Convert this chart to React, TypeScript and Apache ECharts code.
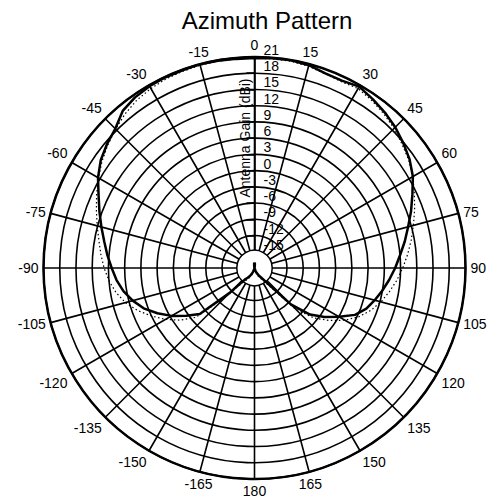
import React, { useEffect, useRef } from "react";
import * as echarts from "echarts";

// Azimuth angles (degrees, clockwise from top)
const angles = [
  -180, -175, -170, -165, -160, -155, -150, -145, -140, -135, -130, -125, -120, -115, -110, -105,
  -100, -95, -90, -85, -80, -75, -70, -65, -60, -55, -50, -45, -40, -35, -30, -25, -20, -15, -10, -5,
  0, 5, 10, 15, 20, 25, 30, 35, 40, 45, 50, 55, 60, 65, 70, 75, 80, 85, 90, 95, 100, 105, 110, 115,
  120, 125, 130, 135, 140, 145, 150, 155, 160, 165, 170, 175, 180,
];

// Measured gain (dBi) – thick solid line
const measured = [
  -19, -18.8, -18.3, -17.8, -17.3, -16.8, -16.3, -15.8, -15.2, -11.5, -4.8, -2.6, -0.3, 1.8, 3.8, 5.3,
  6.6, 7.6, 8.4, 9.3, 10.2, 11.3, 12.5, 13.8, 15.4, 16.7, 17.6, 18.4, 19.9, 20.5, 20.8, 20.9, 20.9, 21.0, 20.9, 20.8,
  20.8, 20.9, 21.0, 20.8, 20.3, 20.2, 20.7, 20.1, 19.5, 18.8, 17.9, 17.0, 15.8, 14.2, 12.8, 11.4, 10.2, 9.0, 8.0, 7.0, 6.0, 5.0, 4.0, 2.5,
  0.0, -2.2, -4.6, -8.5, -14.4, -15.8, -16.4, -16.9, -17.4, -17.9, -18.3, -18.8, -19,
];

// Simulated gain (dBi) – thin dotted line
const simulated = [
  -19, -18.5, -18, -17.3, -16.8, -16.3, -15.8, -15.2, -14.2, -10.5, -3.8, -1.2, 1.0, 3.0, 5.0, 6.7,
  8.0, 9.0, 9.8, 10.5, 11.2, 12.1, 13.1, 14.2, 15.3, 16.4, 17.4, 18.3, 19.2, 19.9, 20.3, 20.6, 20.7, 20.8, 20.8, 20.8,
  20.8, 20.8, 20.8, 20.6, 20.2, 20.0, 20.3, 19.8, 19.2, 18.5, 17.6, 16.8, 15.8, 14.6, 13.5, 12.4, 11.4, 10.4, 9.4, 8.4, 7.3, 6.2, 4.9, 3.3,
  1.3, -1.1, -3.6, -7.3, -13.2, -15.2, -15.8, -16.3, -16.8, -17.3, -18, -18.5, -19,
];

const gainMin = -18;
const gainMax = 21;
const gainStep = 3;
const angleStep = 15;
const holeGain = -15;

const FONT = "Liberation Sans, Arial, Helvetica, sans-serif";

export default function App() {
  const ref = useRef<HTMLDivElement>(null);
  useEffect(() => {
    const chart = echarts.init(ref.current!, null, { renderer: "svg" });
    const cx = 254.5;
    const cy = 268;
    const R = 211;
    const holeR = ((holeGain - gainMin) / (gainMax - gainMin)) * R + 1.5;
    const toAxis = (a: number) => (a < 0 ? a + 360 : a);
    chart.setOption({
      animation: false,
      backgroundColor: "#fff",
      title: {
        text: "Azimuth Pattern",
        left: 262,
        textAlign: "center",
        top: 3,
        textStyle: { fontSize: 24, fontWeight: "normal", color: "#000", fontFamily: FONT },
      },
      polar: { center: [cx, cy], radius: R },
      angleAxis: {
        type: "value",
        min: 0,
        max: 360,
        interval: angleStep,
        startAngle: 90,
        clockwise: true,
        axisLine: { show: true, lineStyle: { color: "#000", width: 2.5 } },
        axisTick: { show: false },
        axisLabel: {
          color: "#000",
          fontSize: 14,
          fontFamily: FONT,
          margin: 5,
          formatter: (v: number) => String(v > 180 ? v - 360 : v === 360 ? 0 : v),
        },
        splitLine: { show: true, lineStyle: { color: "#000", width: 1.6 } },
      },
      radiusAxis: {
        type: "value",
        min: gainMin,
        max: gainMax,
        interval: gainStep,
        axisLine: { show: true, lineStyle: { color: "#000", width: 1.6 } },
        axisTick: { show: true, inside: true, length: 8, lineStyle: { color: "#000", width: 1.5 } },
        axisLabel: {
          showMinLabel: false,
          color: "#000",
          fontSize: 14,
          fontFamily: FONT,
          margin: 8,
          align: "left",
          verticalAlign: "bottom",
          padding: [0, 0, 0, 17],
        },
        splitLine: { show: true, lineStyle: { color: "#000", width: 1.6 } },
      },
      graphic: [
        {
          type: "circle",
          shape: { cx, cy, r: holeR },
          style: { fill: "#fff", stroke: "#000", lineWidth: 1.5 },
          z: 3,
          silent: true,
        },
        {
          type: "text",
          x: 245,
          y: 138,
          rotation: Math.PI / 2,
          style: {
            text: "Antenna Gain (dBi)",
            fontSize: 14,
            fontFamily: FONT,
            fill: "#000",
            align: "center",
            verticalAlign: "middle",
          },
          z: 4,
        },
      ],
      series: [
        {
          type: "line",
          coordinateSystem: "polar",
          data: angles.map((a, i) => [simulated[i], toAxis(a)]),
          showSymbol: false,
          clip: false,
          lineStyle: { color: "#000", width: 1.2, type: [1.5, 2.5] },
          z: 5,
        },
        {
          type: "line",
          coordinateSystem: "polar",
          data: angles.map((a, i) => [measured[i], toAxis(a)]),
          showSymbol: false,
          clip: false,
          lineStyle: { color: "#000", width: 2.5 },
          z: 6,
        },
      ],
    });
    return () => chart.dispose();
  }, []);
  return (
    <div
      ref={ref}
      style={{ position: "fixed", left: 0, top: 0, width: 493, height: 498 }}
    />
  );
}
